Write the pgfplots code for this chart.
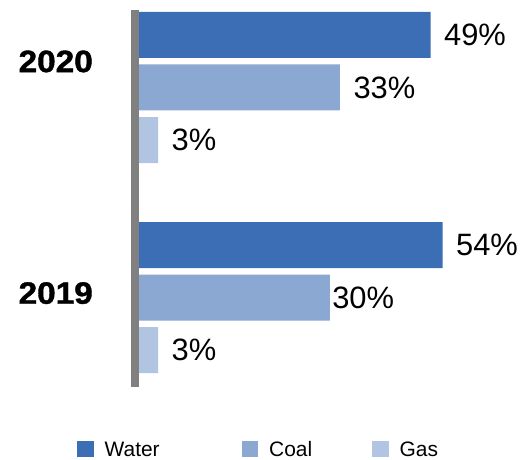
\documentclass[border=0pt]{standalone}
\usepackage{pgfplots}
\pgfplotsset{compat=1.18}
\usepackage{fontspec}
\setmainfont{Liberation Sans}
\newfontfamily\yearfont[FakeBold=1.2]{Liberation Sans Bold}
\definecolor{water}{RGB}{59,110,180}
\definecolor{coal}{RGB}{138,168,209}
\definecolor{gas}{RGB}{177,197,226}
\definecolor{axgray}{RGB}{128,128,128}
\begin{document}
\begin{tikzpicture}
\path[use as bounding box] (0,0) rectangle (524bp,460bp);
\begin{axis}[
  at={(139bp,73bp)}, anchor=south west,
  scale only axis, width=370bp, height=377bp,
  xmin=0, xmax=61.67, ymin=-0.426, ymax=1.369,
  clip=false,
  xbar,
  axis lines*=left,
  axis line style={draw=none},
  xtick=\empty,
  major tick length=0pt,
  ytick={0.021,1.124},
  yticklabels={\scalebox{1.08}[1]{2019},\scalebox{1.08}[1]{2020}},
  yticklabel style={font=\fontsize{31}{36}\selectfont\yearfont, inner sep=0pt, xshift=-46bp},
  bar width=0.219,
  point meta=explicit symbolic,
  nodes near coords,
  nodes near coords style={font=\fontsize{31}{36}\selectfont, text=black, anchor=west, xshift=10bp},
  legend columns=3,
  legend cell align=left,
  legend image code/.code={\fill[#1] (0bp,-7bp) rectangle (16.5bp,8.5bp);},
  legend style={at={(axis description cs:-0.1676,-0.166)}, anchor=west, draw=none, fill=none, inner sep=0pt,
    font=\fontsize{21}{25}\selectfont,
    nodes={inner ysep=0.5bp},
    /tikz/every even column/.append style={column sep=58bp},
    /tikz/every odd column/.append style={column sep=9bp}},
]
\addplot[bar shift=0.25, fill=water, draw=none] coordinates {(48.6,1) [49\%] (50.6,0) [54\%]};
\addlegendentry{Water\rule{22bp}{0pt}}
\addplot[bar shift=0, fill=coal, draw=none] coordinates {(33.5,1) [33\%] (31.8,0) [\kern-11bp 30\%]};
\addlegendentry{Coal}
\addplot[bar shift=-0.25, fill=gas, draw=none] coordinates {(3.2,1) [3\%] (3.2,0) [3\%]};
\addlegendentry{Gas}
\draw[axgray, line width=8bp] ([xshift=-4bp]axis cs:0,-0.426) -- ([xshift=-4bp]axis cs:0,1.369);
\end{axis}
\end{tikzpicture}
\end{document}
